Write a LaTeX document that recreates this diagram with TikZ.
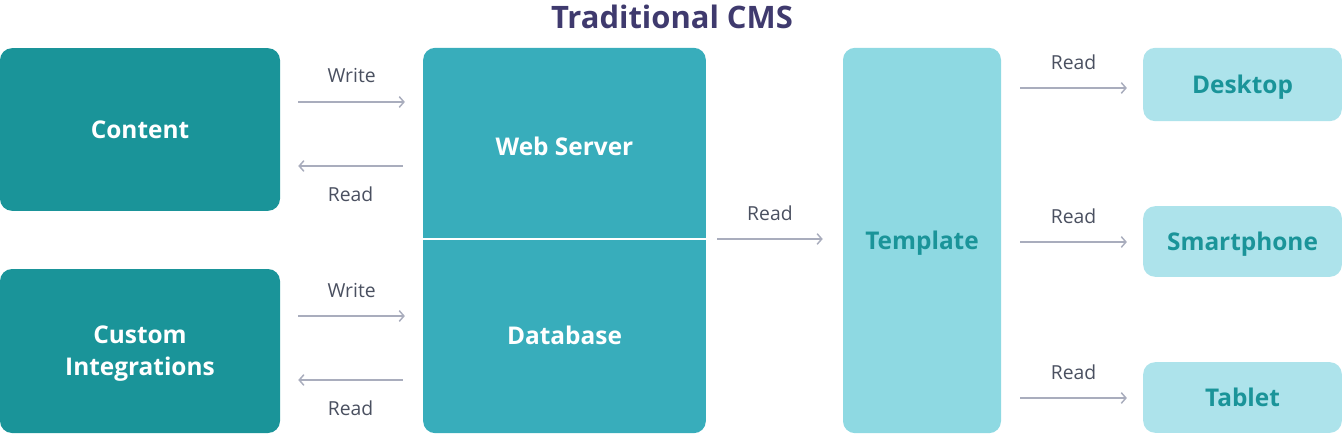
\documentclass[tikz,border=0pt]{standalone}
\usepackage{fontspec}
\setmainfont{Open Sans}
\usepackage{tikz}
\usetikzlibrary{arrows.meta, calc}

\definecolor{darkteal}{HTML}{1A9499}
\definecolor{midteal}{HTML}{38ADBB}
\definecolor{lightteal}{HTML}{8ED9E2}
\definecolor{paleteal}{HTML}{ADE3EB}
\definecolor{titlecol}{HTML}{3F3A6E}
\definecolor{labelcol}{HTML}{4A5060}
\definecolor{arrowcol}{HTML}{A9ADBD}

\tikzset{
  box/.style={rectangle, rounded corners=9pt, inner sep=0pt, align=center, text depth=0pt,
    font=\fontsize{18.3}{24}\selectfont\bfseries},
  darkbox/.style={box, fill=darkteal, text=white},
  midbox/.style={box, fill=midteal, text=white},
  lightbox/.style={box, fill=lightteal, text=darkteal},
  devbox/.style={box, fill=paleteal, text=darkteal},
  flow/.style={draw=arrowcol, line width=1.1pt, -{Straight Barb[length=3.5pt, width=8pt]}},
  lbl/.style={midway, text=labelcol, font=\fontsize{14.5}{17}\selectfont}
}

\begin{document}
\begin{tikzpicture}[x=0.75pt, y=-0.75pt]

\useasboundingbox (0,0) rectangle (1344,438);

\node[font=\fontsize{23.2}{27}\selectfont\bfseries, text=titlecol] (title) at (672,17) {Traditional CMS};

% sources
\node[darkbox, minimum width=210pt, minimum height=122pt] (content) at (140,129.5) {Content};
\node[darkbox, minimum width=210pt, minimum height=123pt] (custom) at (140,351) {Custom\\Integrations};

% server block
\node[midbox, minimum width=212pt, minimum height=289pt] (server) at (564.5,240.5) {};
\node[text=white, text depth=0pt, font=\fontsize{18.3}{24}\selectfont\bfseries] (web) at (564.5,146) {Web Server};
\node[text=white, text depth=0pt, font=\fontsize{18.3}{24}\selectfont\bfseries] (db) at (564.5,335) {Database};
\draw[white, line width=1.2pt] ($(server.west)+(0,-1.5)$) -- ($(server.east)+(0,-1.5)$);

\node[lightbox, minimum width=118.5pt, minimum height=289pt] (template) at (922,240.5) {Template};

% devices
\node[devbox, minimum width=149pt, minimum height=55pt] (desktop) at (1242.5,84.5) {Desktop};
\node[devbox, minimum width=149pt, minimum height=53pt] (phone) at (1242.5,241.5) {Smartphone};
\node[devbox, minimum width=149pt, minimum height=53pt] (tablet) at (1242.5,397.5) {Tablet};

% arrows
\draw[flow] ($(content.east)+(18,-27.5)$) -- node[lbl, yshift=19.5pt] {Write} ($(server.west)+(-18,-138.5)$);
\draw[flow] ($(server.west)+(-20,-74.5)$) -- node[lbl, yshift=-21pt] {Read} ($(content.east)+(18,36.5)$);
\draw[flow] ($(custom.east)+(18,-35)$) -- node[lbl, yshift=19.5pt] {Write} ($(server.west)+(-18,75.5)$);
\draw[flow] ($(server.west)+(-20,139.5)$) -- node[lbl, yshift=-21pt] {Read} ($(custom.east)+(18,29)$);

\draw[flow] ($(server.east)+(11,-1.5)$) -- node[lbl, yshift=19pt] {Read} ($(template.west)+(-20,-1.5)$);

\draw[flow] ($(template.east)+(19,-152.5)$) -- node[lbl, yshift=19.5pt] {Read} ($(desktop.west)+(-16,3.5)$);
\draw[flow] ($(template.east)+(19,1.5)$) -- node[lbl, yshift=19pt] {Read} ($(phone.west)+(-16,0.5)$);
\draw[flow] ($(template.east)+(19,157.5)$) -- node[lbl, yshift=19pt] {Read} ($(tablet.west)+(-16,0.5)$);

\end{tikzpicture}
\end{document}
